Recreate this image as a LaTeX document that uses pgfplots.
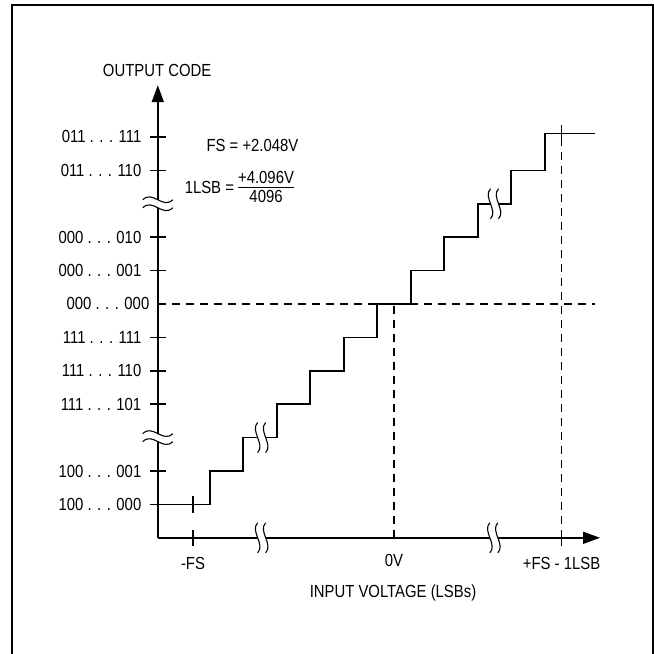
\documentclass[border=0pt]{standalone}
\usepackage{pgfplots}
\pgfplotsset{compat=1.18}
\usepackage{fontspec}
\setmainfont{Liberation Sans}[FakeStretch=0.85]
\usetikzlibrary{arrows.meta}

% vertical break (on horizontal lines)
\newcommand{\vbrk}[2]{%
  \begin{scope}[shift={(axis cs:#1,#2)}]
    \fill[white] (-4bp,-15bp) .. controls (4bp,-7bp) and (-12bp,7bp) .. (-4bp,15bp)
      -- (4bp,15bp) .. controls (-4bp,7bp) and (12bp,-7bp) .. (4bp,-15bp) -- cycle;
    \draw[line width=1.1bp] (-4bp,-15bp) .. controls (4bp,-7bp) and (-12bp,7bp) .. (-4bp,15bp);
    \draw[line width=1.1bp] (4bp,-15bp) .. controls (12bp,-7bp) and (-4bp,7bp) .. (4bp,15bp);
  \end{scope}}
% horizontal break (on the y axis)
\newcommand{\hbrk}[2]{%
  \begin{scope}[shift={(axis cs:#1,#2)}]
    \fill[white] (-15bp,-4bp) .. controls (-5bp,6bp) and (5bp,-14bp) .. (15bp,-4bp)
      -- (15bp,4bp) .. controls (5bp,-6bp) and (-5bp,14bp) .. (-15bp,4bp) -- cycle;
    \draw[line width=1.1bp] (-15bp,-4bp) .. controls (-5bp,6bp) and (5bp,-14bp) .. (15bp,-4bp);
    \draw[line width=1.1bp] (-15bp,4bp) .. controls (-5bp,14bp) and (5bp,-6bp) .. (15bp,4bp);
  \end{scope}}

\begin{document}
\begin{tikzpicture}[font=\fontsize{17.5bp}{21bp}\selectfont]
\begin{axis}[
    x=33.5bp, y=33.4bp,
    xmin=-7.05, xmax=6.15,
    ymin=-7, ymax=6.55,
    axis lines=left,
    axis line style={line width=1.5bp, -{Triangle[length=17bp,width=12bp]}},
    clip=false,
    tick style={line width=1.5bp, black},
    major tick length=16bp,
    tick align=center,
    xtick={-6,5},
    xticklabels={-FS, +FS - 1LSB},
    ytick={-6,-5,-3,-2,-1,1,2,4,5},
    yticklabels={100 . . . 000, 100 . . . 001, 111 . . . 101, 111 . . . 110,
        111 . . . 111, 000 . . . 001, 000 . . . 010, 011 . . . 110, 011 . . . 111},
    extra x ticks={0},
    extra x tick labels={0V},
    extra y ticks={0},
    extra y tick labels={000 . . . 000},
    extra tick style={major tick length=0bp},
    extra x tick style={xticklabel style={yshift=-5bp}},
    xticklabel style={yshift=-8bp},
    yticklabel style={xshift=-5bp},
  ]
  % reference lines
  \addplot[dashed, line width=1.2bp, dash pattern=on 8bp off 6bp] coordinates {(-7.05,0) (6,0)};
  \addplot[dashed, line width=1.2bp, dash pattern=on 8bp off 6bp] coordinates {(0,-7) (0,0)};
  \addplot[dashed, line width=1.2bp, dash pattern=on 8bp off 6bp] coordinates {(5,-7) (5,5)};

  % transfer function
  \addplot[const plot, line width=1.6bp] coordinates {
    (-7.05,-6) (-5.5,-5) (-4.5,-4) (-3.5,-3) (-2.5,-2) (-1.5,-1)
    (-0.5,0) (0.5,1) (1.5,2) (2.5,3) (3.5,4) (4.5,5.1) (6,5.1)
  };
  % small ticks on the curve
  \addplot[line width=1.5bp] coordinates {(-6,-6.25) (-6,-5.75)};
  \addplot[line width=1.5bp] coordinates {(5,4.8) (5,5.36)};

  % breaks
  \vbrk{-3.95}{-4}
  \vbrk{3.0}{3}
  \vbrk{-3.95}{-7}
  \vbrk{2.98}{-7}
  \hbrk{-7.05}{-4}
  \hbrk{-7.05}{3}

  % texts
  \node at (axis cs:-7.07,7.0) {OUTPUT CODE};
  \node at (axis cs:-0.03,-8.66) {INPUT VOLTAGE (LSBs)};
  \node[anchor=west] at (axis cs:-5.7,4.75) {FS = +2.048V};
  \node[anchor=west] at (axis cs:-6.35,3.45)
    {1LSB = {\renewcommand{\arraystretch}{0}\setlength{\arrayrulewidth}{1.1bp}%
      \begin{tabular}{@{}c@{}}\rule[-3bp]{0pt}{16bp}+4.096V\\\hline
      \rule[-4bp]{0pt}{19bp}4096\end{tabular}}};

  % frame
  \draw[line width=2bp] (axis cs:-11.4,-11) -- (axis cs:-11.4,8.95) -- (axis cs:7.73,8.95) -- (axis cs:7.73,-11);
  \coordinate (bl) at (axis cs:-11.76,-10.455);
  \coordinate (tr) at (axis cs:7.76,9.10);
\end{axis}
\pgfresetboundingbox
\useasboundingbox (bl) rectangle (tr);
\end{tikzpicture}
\end{document}
